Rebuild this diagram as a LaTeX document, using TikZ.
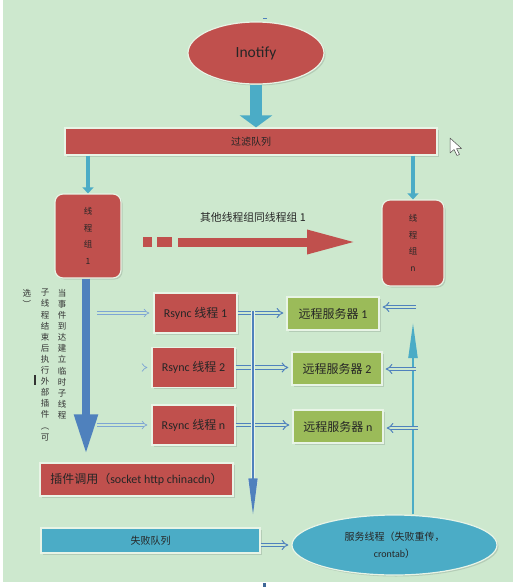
\documentclass[tikz,border=0pt]{standalone}
\usepackage{fontspec}
\setmainfont{Carlito}
\newfontfamily\cjk{Noto Sans CJK SC}
\usetikzlibrary{arrows.meta,shapes.geometric,shadows,calc}
\definecolor{bg}{RGB}{205,232,206}
\definecolor{ored}{RGB}{192,80,77}
\definecolor{oaqua}{RGB}{75,172,198}
\definecolor{oblue}{RGB}{79,129,189}
\definecolor{ogreen}{RGB}{155,187,89}
\definecolor{edge}{RGB}{232,244,230}
\definecolor{shade}{RGB}{180,204,182}
\definecolor{lblue}{RGB}{125,165,212}
\begin{document}
\begin{tikzpicture}[x=1pt,y=-1pt,
  shapebase/.style={draw=edge, line width=1.2pt, inner sep=0pt, text=black!85,
    drop shadow={shadow xshift=1.5pt, shadow yshift=-1.5pt, fill=shade, opacity=1}},
  redbox/.style={shapebase, rectangle, fill=ored},
  greenbox/.style={shapebase, rectangle, fill=ogreen, minimum width=90pt, minimum height=33pt,
    font=\fontsize{12}{14}\selectfont},
  rsbox/.style={redbox, minimum width=83pt, minimum height=40pt, font=\fontsize{12}{14}\selectfont},
  grpbox/.style={redbox, rounded corners=8pt, align=center, font=\cjk\fontsize{8.5}{16.6}\selectfont},
  vtext/.style={anchor=north, inner sep=0pt, align=center, text=black!80, font=\cjk\fontsize{8.5}{11.1}\selectfont},
  inarrow/.style={draw=lblue, double=bg, double distance=2.2pt, line width=0.7pt, -{Implies}, shorten >=4pt},
  outarrow/.style={draw=oblue, double=bg, double distance=2.4pt, line width=1pt, -{Implies}, shorten >=3pt},
]
% background
\fill[white] (0,0) rectangle (514,587);
\fill[bg] (3,0) rectangle (513,582);
\useasboundingbox (0,0) rectangle (514,587);
\draw[oblue, line width=0.8pt] (263,18) -- (267,18);
\fill[oblue!80!black] (263,583) rectangle (266,587);

% nodes
\node[ellipse, shapebase, fill=ored, minimum width=136pt, minimum height=62pt,
  font=\fontsize{15.5}{18}\selectfont] (ino) at (256,53) {Inotify};
\node[redbox, minimum width=372pt, minimum height=27pt,
  font=\cjk\fontsize{10}{11}\selectfont] (flt) at (251,141.5) {过滤队列};
\node[grpbox, minimum width=66pt, minimum height=84pt] (tg1) at (88,236) {线\\程\\组\\1};
\node[grpbox, minimum width=62pt, minimum height=86pt] (tgn) at (413,243) {线\\程\\组\\n};
\node[font=\cjk\fontsize{10.8}{12}\selectfont, text=black!85] (lbl) at (253,217) {其他线程组同线程组 1};

\node[rsbox] (rs1) at (195.5,313) {Rsync {\cjk 线程} 1};
\node[rsbox] (rs2) at (193.5,367.5) {Rsync {\cjk 线程} 2};
\node[rsbox] (rsn) at (193.5,425) {Rsync {\cjk 线程} n};

\node[greenbox, minimum width=92pt] (sv1) at (333,313.5) {{\cjk 远程服务器} 1};
\node[greenbox] (sv2) at (337,368.5) {{\cjk 远程服务器} 2};
\node[greenbox] (svn) at (338,426.5) {{\cjk 远程服务器} n};

\node[redbox, minimum width=193pt, minimum height=33pt, font=\fontsize{12}{14}\selectfont]
  (pl) at (136.5,479.5) {{\cjk 插件调用（}socket http chinacdn{\cjk ）}};
\node[shapebase, rectangle, fill=oaqua, minimum width=219pt, minimum height=25pt,
  font=\cjk\fontsize{10}{11}\selectfont] (fq) at (150.5,540.5) {失败队列};
\node[ellipse, shapebase, fill=oaqua, minimum width=205pt, minimum height=60pt, align=center,
  font=\fontsize{10}{17}\selectfont] (svc) at (394.5,545) {{\cjk 服务线程（失败重传，}\\crontab{\cjk ）}};

% vertical annotation
\node[vtext] (vt1) at (62,289) {当\\事\\件\\到\\达\\建\\立\\临\\时\\子\\线\\程};
\node[vtext] (vt2) at (45,289) {子\\线\\程\\结\\束\\后\\执\\行\\外\\部\\插\\件\\︵\\可};
\node[vtext] (vt3) at (27,289) {选\\︶};
\draw[line width=1.3pt, black!80] (35,375) -- (35,385);

% cursor
\draw[fill=white, draw=black!70, line width=0.5pt, line join=round]
  (450,138) -- (450,153) -- (454,149.5) -- (457,155.5) -- (459.5,154.5) -- (456.5,148.5) -- (461.5,148.5) -- cycle;

% coordinates for free ends
\coordinate (mx) at (97,0);
\coordinate (vtop) at (253,311);
\coordinate (rtop) at (413,323);
\coordinate (r1) at (416,307);
\coordinate (r2) at (416,369);
\coordinate (rn) at (418,428);
\coordinate (ra) at (178,242);
\coordinate (rb) at (357,242);

% connectors
\draw[oaqua, line width=12pt, -{Triangle[width=32pt,length=12pt]}] (ino.south) -- (ino.south |- flt.north);
\draw[oaqua, line width=4pt, -{Triangle[width=11pt,length=6pt]}] (flt.south -| tg1) -- (tg1.north);
\draw[oaqua, line width=4pt, -{Triangle[width=11pt,length=6pt]}] (flt.south -| tgn) -- (tgn.north);

\fill[ored] (143,237) rectangle (152,247);
\fill[ored] (157,237) rectangle (172,247);
\draw[ored, line width=9pt, -{Triangle[width=22pt,length=50pt]}] (ra) -- (rb);

\draw[oblue, line width=8pt, shorten >=8pt, -{Triangle[width=22pt,length=40pt]}]
  ([xshift=-2pt]tg1.south) -- ([xshift=-2pt]tg1.south |- pl.north);

\draw[inarrow] (rs1.west -| mx) -- (rs1.west);
\draw[inarrow] (rs2.west -| mx) -- (rs2.west);
\draw[inarrow] (rsn.west -| mx) -- (rsn.west);

\draw[outarrow] (rs1.east) -- (rs1.east -| sv1.west);
\draw[outarrow] (rs2.east) -- (rs2.east -| sv2.west);
\draw[outarrow] (rsn.east) -- (rsn.east -| svn.west);

\draw[oblue, line width=1.5pt, preaction={draw=edge, line width=4.5pt}, shorten >=13pt,
  -{Triangle[width=9pt,length=36pt]}] (vtop) -- (vtop |- fq.north);

\draw[oaqua, line width=2pt, -{Triangle[width=9pt,length=35pt]}] (svc.north -| rtop) -- (rtop);
\draw[outarrow] (r1) -- (r1 -| sv1.east);
\draw[outarrow] (r2) -- (r2 -| sv2.east);
\draw[outarrow] (rn) -- (rn -| svn.east);

\draw[outarrow] (svc.west -| fq.east) -- (svc.west);
\end{tikzpicture}
\end{document}
